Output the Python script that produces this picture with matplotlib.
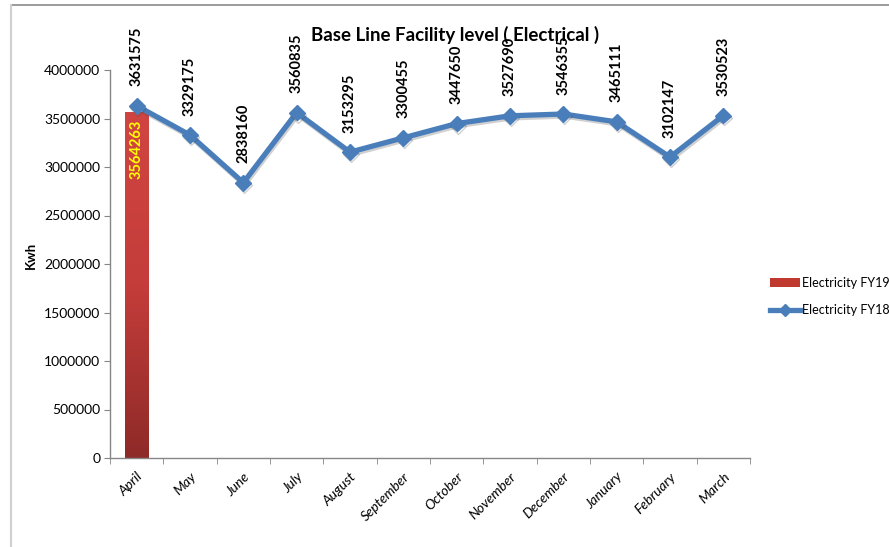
import numpy as np
import matplotlib
matplotlib.use("Agg")
import matplotlib.pyplot as plt
from matplotlib.colors import LinearSegmentedColormap
from matplotlib.lines import Line2D
from matplotlib.patches import Patch
import matplotlib.patheffects as pe

months = ["April", "May", "June", "July", "August", "September", "October",
          "November", "December", "January", "February", "March"]
fy18 = [3631575, 3329175, 2838160, 3560835, 3153295, 3300455, 3447650,
        3527690, 3546355, 3465111, 3102147, 3530523]
fy19 = [3564263]

plt.rcParams['font.family'] = ['Lato', 'DejaVu Sans']

fig = plt.figure(figsize=(8.89, 5.47), dpi=100)
ax = fig.add_axes([110/889, 1-458/547, 640/889, 388/547])

x = np.arange(len(months))
ax.set_xlim(-0.5, len(months)-0.5)
ax.set_ylim(0, 4000000)

# FY19 bar with vertical red gradient
bw = 0.45
bars = ax.bar(x[:len(fy19)], fy19, width=bw, color='none', edgecolor='none', zorder=2)
grad_cmap = LinearSegmentedColormap.from_list("redgrad", ["#8e2a28", "#c43d3a", "#d04541"])
for b in bars:
    x0, y0 = b.get_x(), b.get_y()
    w, h = b.get_width(), b.get_height()
    grad = np.linspace(0, 1, 256).reshape(-1, 1)
    im = ax.imshow(grad, cmap=grad_cmap, origin='lower', aspect='auto',
                   extent=[x0, x0+w, y0, y0+h], zorder=2)
    im.set_clip_path(b)
for i, v in enumerate(fy19):
    ax.annotate(str(v), (x[i], v), xytext=(0, -5), textcoords='offset points',
                rotation=90, ha='center', va='top', color='#ffff00',
                fontsize=10.5, fontweight='bold', zorder=5)

# FY18 line
ax.plot(x, fy18, color='#4a7ebb', lw=3.8, marker='D', markersize=8,
        markerfacecolor='#4a7ebb', markeredgecolor='#4a7ebb', zorder=3,
        path_effects=[pe.SimpleLineShadow(offset=(0.8, -1.5), alpha=0.25, shadow_color='#444444'),
                      pe.Normal()])
for i, v in enumerate(fy18):
    ax.annotate(str(v), (x[i], v), xytext=(0, 14), textcoords='offset points',
                rotation=90, ha='center', va='bottom', color='black',
                fontsize=10.5, fontweight='bold', zorder=5, annotation_clip=False)

# axes styling
for s in ['top', 'right']:
    ax.spines[s].set_visible(False)
for s in ['left', 'bottom']:
    ax.spines[s].set_color('#868686')
    ax.spines[s].set_linewidth(1.0)
ax.set_yticks(np.arange(0, 4000001, 500000))
ax.set_yticklabels([str(v) for v in range(0, 4000001, 500000)], fontsize=10)
ax.tick_params(axis='y', length=4, color='#868686', pad=3)
ax.set_xticks(x)
ax.set_xticklabels(months, rotation=45, ha='right', rotation_mode='anchor',
                   fontsize=10, style='italic')
ax.tick_params(axis='x', which='major', length=0, pad=9)
ax.set_xticks(np.arange(-0.5, len(months)), minor=True)
ax.tick_params(axis='x', which='minor', length=4, color='#868686')
ax.set_ylabel("Kwh", fontsize=9.5, fontweight='bold')
ax.yaxis.set_label_coords(-0.114, 0.523)

fig.text(455/889, 1-35/547, "Base Line Facility level ( Electrical )",
         ha='center', va='center', fontsize=13.5, fontweight='bold')

handles = [Patch(facecolor='#c0392f', edgecolor='none'),
           Line2D([0], [0], color='#4a7ebb', lw=3.8, marker='D', markersize=6)]
fig.legend(handles, ["Electricity FY19", "Electricity FY18"],
           loc='upper left', bbox_to_anchor=(765/889, 1-272/547),
           frameon=False, fontsize=9, handlelength=2.4, handletextpad=0.2,
           labelspacing=1.2, borderaxespad=0)

# outer frame lines
fig.add_artist(Line2D([11/889, 1], [1-5/547, 1-5/547], color='#8a8a8a', lw=1.2))
fig.add_artist(Line2D([11/889, 11/889], [0, 1-5/547], color='#d0d0d0', lw=1.5))

fig.savefig("out.png", dpi=100)
